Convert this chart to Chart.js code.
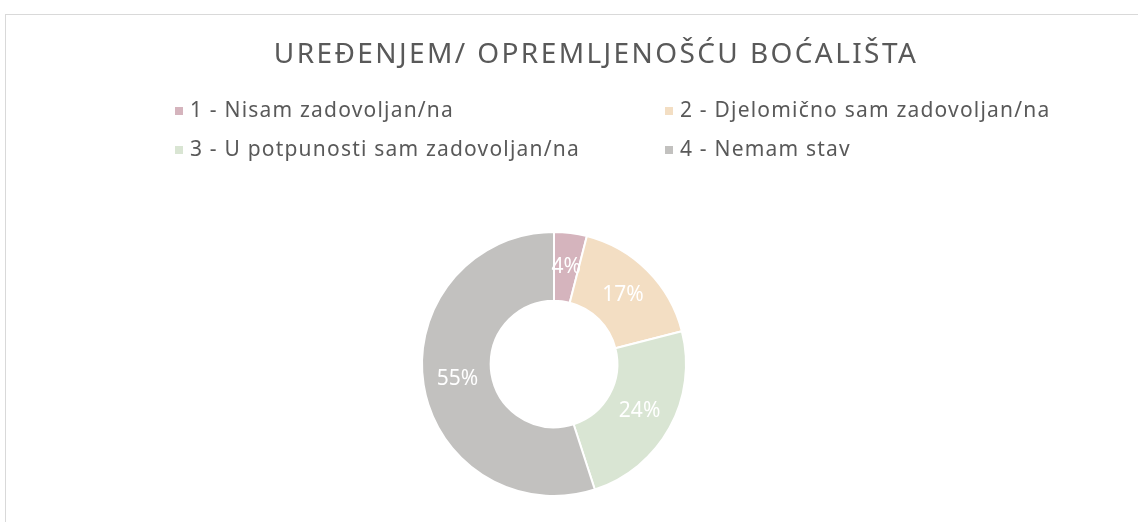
<!DOCTYPE html>
<html>
<head>
<meta charset="utf-8">
<script src="https://cdn.jsdelivr.net/npm/chart.js@4"></script>
<style>
  body { margin: 0; background: #fff; overflow: hidden; }
  #wrap { position: relative; width: 1138px; height: 522px; }
  #frame { position: absolute; left: 5px; top: 14px; width: 1140px; height: 520px; border: 1px solid #d9d9d9; box-sizing: border-box; }
  #chart { position: absolute; left: 0; top: 0; }
</style>
</head>
<body>
<div id="wrap">
  <div id="frame"></div>
  <canvas id="chart" width="1138" height="522"></canvas>
</div>
<script>
// chart data
const chartTitle = 'UREĐENJEM/ OPREMLJENOŠĆU BOĆALIŠTA';
const labels = ['1 - Nisam zadovoljan/na', '2 - Djelomično sam zadovoljan/na', '3 - U potpunosti sam zadovoljan/na', '4 - Nemam stav'];
const values = [4, 17, 24, 55];
const colors = ['#d5b4bd', '#f3dec3', '#d9e5d3', '#c2c1bf'];

const fontFamily = '"Noto Sans", Lato, sans-serif';

// title + 2x2 legend drawn on the canvas
const headerPlugin = {
    id: 'header',
    afterDraw(chart) {
        const c = chart.ctx;
        c.save();
        c.fillStyle = '#595959';
        c.textBaseline = 'middle';
        c.textAlign = 'center';
        c.font = '28px ' + fontFamily;
        c.letterSpacing = '2.4px';
        c.fillText(chartTitle, 596, 55);

        // legend grid
        const colX = [175, 665];
        const rowY = [111, 150];
        c.textAlign = 'left';
        c.font = '21px ' + fontFamily;
        c.letterSpacing = '1.2px';
        labels.forEach((lab, i) => {
            const x = colX[i % 2];
            const y = rowY[Math.floor(i / 2)];
            c.fillStyle = colors[i];
            c.fillRect(x, y - 4, 8, 8);
            c.fillStyle = '#595959';
            c.fillText(lab, x + 15, y);
        });
        c.restore();
    }
};

// percentage labels inside the slices
const sliceLabels = {
    id: 'sliceLabels',
    afterDatasetsDraw(chart) {
        const c = chart.ctx;
        const meta = chart.getDatasetMeta(0);
        c.save();
        c.fillStyle = '#ffffff';
        c.font = '21px ' + fontFamily;
        c.textAlign = 'center';
        c.textBaseline = 'middle';
        meta.data.forEach((arc, i) => {
            const p = arc.tooltipPosition();
            c.fillText(values[i] + '%', p.x, p.y);
        });
        c.restore();
    }
};

const ctx = document.getElementById('chart').getContext('2d');
const chart = new Chart(ctx, {
    type: 'doughnut',
    data: {
        labels: labels,
        datasets: [{
            data: values,
            backgroundColor: colors,
            borderColor: '#ffffff',
            borderWidth: 2,
            hoverOffset: 0
        }]
    },
    options: {
        responsive: false,
        animation: false,
        cutout: '48%',
        layout: {
            padding: { left: 421, right: 451, top: 231, bottom: 25 }
        },
        plugins: {
            legend: { display: false },
            title: { display: false },
            tooltip: { enabled: false }
        }
    },
    plugins: [headerPlugin, sliceLabels]
});
</script>
</body>
</html>
